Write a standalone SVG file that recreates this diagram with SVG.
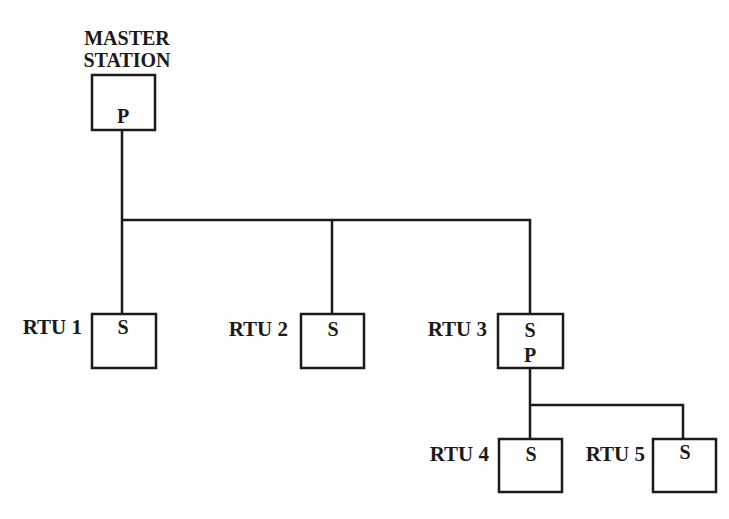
<svg xmlns="http://www.w3.org/2000/svg" width="729" height="519" viewBox="0 0 729 519">
<style>
.box{fill:#fff;stroke:#1a1a1a;stroke-width:2.5}
.line{fill:none;stroke:#1a1a1a;stroke-width:2.5}
text{font-family:"Liberation Serif","Times New Roman",serif;font-weight:bold;font-size:20px;fill:#1a1a1a}
.c{text-anchor:middle}
.r{text-anchor:end;font-size:21px}
</style>
<rect width="729" height="519" fill="#fff"/>
<g id="connectors">
<path class="line" d="M122,130 V314 M122,220 H530 V314 M332,220 V314 M530,368 V439 M530,405 H683 V439"/>
</g>
<g id="master">
<text class="c" x="127" y="45">MASTER</text>
<text class="c" x="127" y="67">STATION</text>
<rect class="box" x="92" y="75" width="63" height="55"/>
<text class="c" x="123" y="123">P</text>
</g>
<g id="rtu1">
<text class="r" x="82" y="334">RTU 1</text>
<rect class="box" x="92" y="314" width="64" height="54"/>
<text class="c" x="123" y="334">S</text>
</g>
<g id="rtu2">
<text class="r" x="288" y="336">RTU 2</text>
<rect class="box" x="301" y="314" width="63" height="54"/>
<text class="c" x="333" y="336">S</text>
</g>
<g id="rtu3">
<text class="r" x="487" y="336">RTU 3</text>
<rect class="box" x="498" y="314" width="65" height="54"/>
<text class="c" x="530" y="337">S</text>
<text class="c" x="530" y="362">P</text>
</g>
<g id="rtu4">
<text class="r" x="489" y="461">RTU 4</text>
<rect class="box" x="499" y="439" width="63" height="53"/>
<text class="c" x="531" y="461">S</text>
</g>
<g id="rtu5">
<text class="r" x="645" y="461">RTU 5</text>
<rect class="box" x="653" y="439" width="63" height="53"/>
<text class="c" x="685" y="459">S</text>
</g>
</svg>
